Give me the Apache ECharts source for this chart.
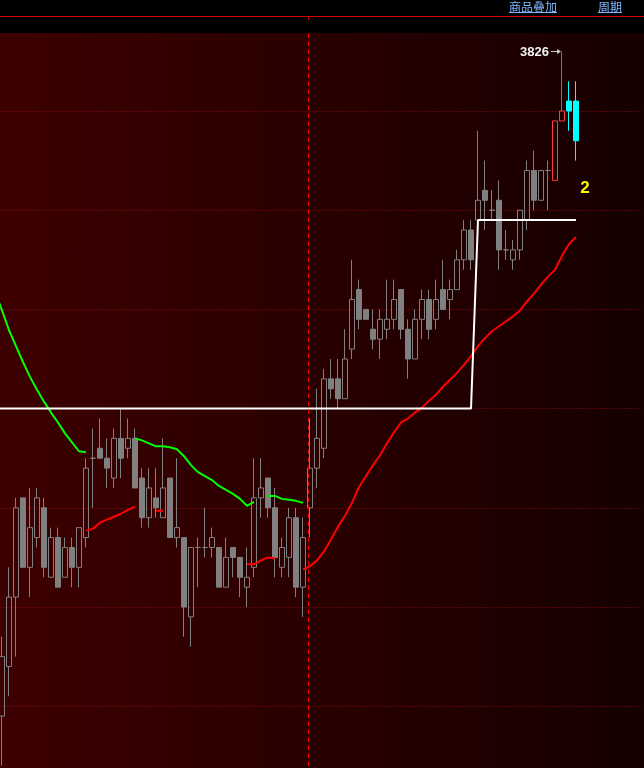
<!DOCTYPE html>
<html><head><meta charset="utf-8">
<script src="https://cdn.jsdelivr.net/npm/echarts@6/dist/echarts.min.js"></script>
<style>
html,body{margin:0;padding:0;background:#000;}
#c{width:644px;height:768px;background:linear-gradient(to right,#3d0000,#160000);}
</style>
</head><body><div id="c"></div>
<script>
// one-minute bars; the first one sits just off the left edge, the last nine are empty space
const categories = ['1','2','3','4','5','6','7','8','9','10','11','12','13','14','15','16','17','18','19','20',
'21','22','23','24','25','26','27','28','29','30','31','32','33','34','35','36','37','38','39','40',
'41','42','43','44','45','46','47','48','49','50','51','52','53','54','55','56','57','58','59','60',
'61','62','63','64','65','66','67','68','69','70','71','72','73','74','75','76','77','78','79','80',
'81','82','83','84','85','86','87','88','89','90','91','92','93'];

const opens = [null,
3759,3764,3771,3781,3774,3777,3780,3773,3777,3773,3776,3774,3777,3785,3786,3785,3783,3787,3786,3787,
3783,3779,3781,3779,3783,3777,3777,3769,3776,3776,3776,3776,3772,3776,3775,3772,3774,3781,3783,3780,
3774,3775,3779,3772,3780,3784,3786,3793,3793,3791,3796,3802,3800,3798,3797,3798,3799,3802,3798,3795,
3799,3801,3799,3802,3801,3802,3805,3808,3809,3812,3810,3811,3806,3805,3806,3809,3814,3811,3814,3813,
3819,3821,3821];
const closes = [null,
3765,3771,3780,3774,3778,3781,3774,3777,3772,3776,3774,3778,3784,3785,3785,3784,3787,3785,3787,3782,
3779,3782,3780,3782,3777,3778,3770,3776,3776,3776,3777,3772,3775,3775,3773,3773,3781,3782,3780,3775,
3776,3779,3772,3777,3784,3787,3793,3792,3791,3795,3801,3799,3799,3797,3799,3799,3801,3798,3795,3799,
3801,3798,3801,3800,3802,3805,3808,3805,3811,3811,3810,3806,3806,3806,3810,3814,3811,3814,3814,3819,
3820,3820,3817];
const lows = [null,
3754,3761,3765,3774,3771,3776,3773,3773,3772,3773,3772,3772,3776,3780,3785,3782,3782,3783,3785,3782,
3778,3778,3779,3779,3777,3776,3767,3766,3772,3775,3775,3772,3772,3773,3771,3770,3773,3779,3779,3773,
3773,3773,3771,3769,3777,3782,3785,3791,3790,3791,3795,3798,3799,3796,3795,3797,3798,3797,3793,3795,
3797,3797,3798,3800,3799,3802,3804,3804,3809,3808,3809,3804,3805,3804,3805,3808,3810,3811,3810,3813,
3819,3818,3815];
const highs = [null,
3767,3774,3781,3781,3782,3782,3781,3778,3778,3777,3777,3778,3785,3788,3789,3787,3788,3790,3789,3788,
3784,3784,3784,3787,3783,3785,3777,3776,3777,3780,3778,3776,3777,3776,3775,3776,3785,3785,3783,3782,
3777,3780,3780,3779,3789,3792,3794,3795,3795,3798,3805,3803,3800,3800,3800,3803,3803,3802,3799,3800,
3802,3802,3803,3805,3803,3806,3809,3809,3818,3815,3812,3813,3808,3807,3810,3815,3816,3814,3815,3819,
3826,3823,3823];

// upper stop line (green) and lower stop line (red)
const greenLine = [3801.8,
3799.9,3797.9,3796.3,3794.7,3793.2,3791.9,3790.7,3789.6,3788.6,3787.5,3786.6,3785.7,3785.6,null,null,null,null,null,null,3787.0,
3786.8,3786.5,3786.2,3786.2,3786.1,3785.9,3785.2,3784.3,3783.6,3783.2,3782.8,3782.2,3781.8,3781.4,3780.9,3780.2,3780.6,null,3781.2,3781.2,
3780.9,3780.8,3780.7,3780.5,null,null,null,null,null,null,null,null,null,null,null,null,null,null,null,null,
null,null,null,null,null,null,null,null,null,null,null,null,null,null,null,null,null,null,null,null,
null,null,null];
const redLine = [null,
null,null,null,null,null,null,null,null,null,null,null,null,3777.7,3777.9,3778.5,3778.8,3779.1,3779.4,3779.8,3780.1,
null,null,3779.7,3779.7,null,null,null,null,null,null,null,null,null,null,null,3774.3,3774.3,3774.7,3775.0,3774.9,
null,null,null,3773.8,3774.1,3774.7,3775.6,3776.8,3778.1,3779.2,3780.5,3782.1,3783.2,3784.3,3785.3,3786.5,3787.6,3788.6,3789.0,3789.6,
3790.1,3790.8,3791.4,3792.2,3792.9,3793.6,3794.4,3795.3,3796.3,3797.1,3797.8,3798.3,3798.8,3799.3,3799.9,3800.8,3801.6,3802.5,3803.3,3804.0,
3805.4,3806.6,3807.3];
// white level line
const whiteLine = [3790,
3790,3790,3790,3790,3790,3790,3790,3790,3790,3790,3790,3790,3790,3790,3790,3790,3790,3790,3790,3790,
3790,3790,3790,3790,3790,3790,3790,3790,3790,3790,3790,3790,3790,3790,3790,3790,3790,3790,3790,3790,
3790,3790,3790,3790,3790,3790,3790,3790,3790,3790,3790,3790,3790,3790,3790,3790,3790,3790,3790,3790,
3790,3790,3790,3790,3790,3790,3790,3790,3809,3809,3809,3809,3809,3809,3809,3809,3809,3809,3809,3809,
3809,3809,3809];

const liveBars = 4;          // last bars drawn in live colours
const separatorBar = 45;     // session separator before this bar
const signalText = '2';
const headerItems = ['商品叠加', '周期'];

const chart = echarts.init(document.getElementById('c'), null, {renderer: 'canvas'});
const GRAY = '#808080';
const LIVE_UP = '#ff3b3b', LIVE_DOWN = '#00ffff';
const candleData = opens.map((o, k) => {
  if (o === null) return '-';
  const item = {value: [o, closes[k], lows[k], highs[k]]};
  if (k >= opens.length - liveBars) {
    if (closes[k] >= o) {
      item.itemStyle = {color: 'transparent', color0: 'transparent', borderColor: LIVE_UP, borderColor0: LIVE_UP, borderColorDoji: LIVE_UP};
    } else {
      item.itemStyle = {color: LIVE_DOWN, color0: LIVE_DOWN, borderColor: LIVE_DOWN, borderColor0: LIVE_DOWN, borderColorDoji: LIVE_DOWN};
    }
  }
  return item;
});

chart.setOption({
  animation: false,
  backgroundColor: 'transparent',
  grid: {left: -8.5, right: 1.5, top: 11.8, bottom: -37.4, containLabel: false, outerBoundsMode: 'none'},
  xAxis: {type: 'category', data: categories, boundaryGap: true,
    axisLine: {show: false}, axisTick: {show: false}, axisLabel: {show: false}, splitLine: {show: false}},
  yAxis: {type: 'value', min: 3750, max: 3830, interval: 10,
    axisLine: {show: false}, axisTick: {show: false}, axisLabel: {show: false},
    splitLine: {show: true, lineStyle: {color: '#900d0d', type: [1, 2], width: 1}}},
  series: [
    {type: 'candlestick', data: candleData, barWidth: 5, silent: true, z: 2,
      itemStyle: {color: 'transparent', color0: GRAY, borderColor: GRAY, borderColor0: GRAY, borderColorDoji: GRAY, borderWidth: 1}},
    {type: 'line', data: greenLine, symbol: 'none', silent: true, z: 3, connectNulls: false,
      lineStyle: {color: '#00ff00', width: 2}},
    {type: 'line', data: redLine, symbol: 'none', silent: true, z: 3, connectNulls: false,
      lineStyle: {color: '#ff0000', width: 2}},
    {type: 'line', data: whiteLine, symbol: 'none', silent: true, z: 4,
      lineStyle: {color: '#ffffff', width: 2}}
  ]
});

const validHighs = highs.filter(v => v !== null);
const maxHigh = Math.max(...validHighs);
const maxIdx = highs.indexOf(maxHigh);
const pt = chart.convertToPixel({gridIndex: 0}, [categories[maxIdx], maxHigh]);
const sepX = Math.round(chart.convertToPixel({xAxisIndex: 0}, categories[separatorBar])) - 2 + 0.5;
const ay = Math.round(pt[1]) + 0.5;

chart.setOption({
  graphic: [
    {type: 'rect', z: 100, shape: {x: 0, y: 0, width: 644, height: 33}, style: {fill: '#000'}},
    {type: 'line', z: 101, shape: {x1: 0, y1: 16.5, x2: 644, y2: 16.5}, style: {stroke: '#d40000', lineWidth: 1}},
    {type: 'line', z: 101, shape: {x1: sepX, y1: 17, x2: sepX, y2: 20}, style: {stroke: '#e00000', lineWidth: 1}},
    {type: 'line', z: 50, shape: {x1: sepX, y1: 33, x2: sepX, y2: 768}, style: {stroke: '#e00000', lineWidth: 1, lineDash: [5, 3]}},
    {type: 'text', z: 102, x: 509, y: 7, style: {text: headerItems[0], fill: '#7fb8ff', font: '12px "Noto Sans CJK SC"', align: 'left', verticalAlign: 'middle'}},
    {type: 'line', z: 102, shape: {x1: 509, y1: 12.5, x2: 557, y2: 12.5}, style: {stroke: '#7fb8ff', lineWidth: 1}},
    {type: 'text', z: 102, x: 598, y: 7, style: {text: headerItems[1], fill: '#7fb8ff', font: '12px "Noto Sans CJK SC"', align: 'left', verticalAlign: 'middle'}},
    {type: 'line', z: 102, shape: {x1: 598, y1: 12.5, x2: 622, y2: 12.5}, style: {stroke: '#7fb8ff', lineWidth: 1}},
    {type: 'text', z: 60, x: pt[0] - 13, y: ay + 1, style: {text: String(maxHigh), fill: '#f2f2f2', font: 'bold 13px "Liberation Sans"', align: 'right', verticalAlign: 'middle'}},
    {type: 'line', z: 60, shape: {x1: pt[0] - 11, y1: ay, x2: pt[0] - 2, y2: ay}, style: {stroke: '#c8c8c8', lineWidth: 1}},
    {type: 'polygon', z: 60, shape: {points: [[pt[0] - 1, ay], [pt[0] - 5, ay - 2.5], [pt[0] - 5, ay + 2.5]]}, style: {fill: '#c8c8c8'}},
    {type: 'text', z: 60, x: 585, y: 188, style: {text: signalText, fill: '#ffff00', font: 'bold 17px "Liberation Sans"', align: 'center', verticalAlign: 'middle'}}
  ]
});
</script>
</body></html>
